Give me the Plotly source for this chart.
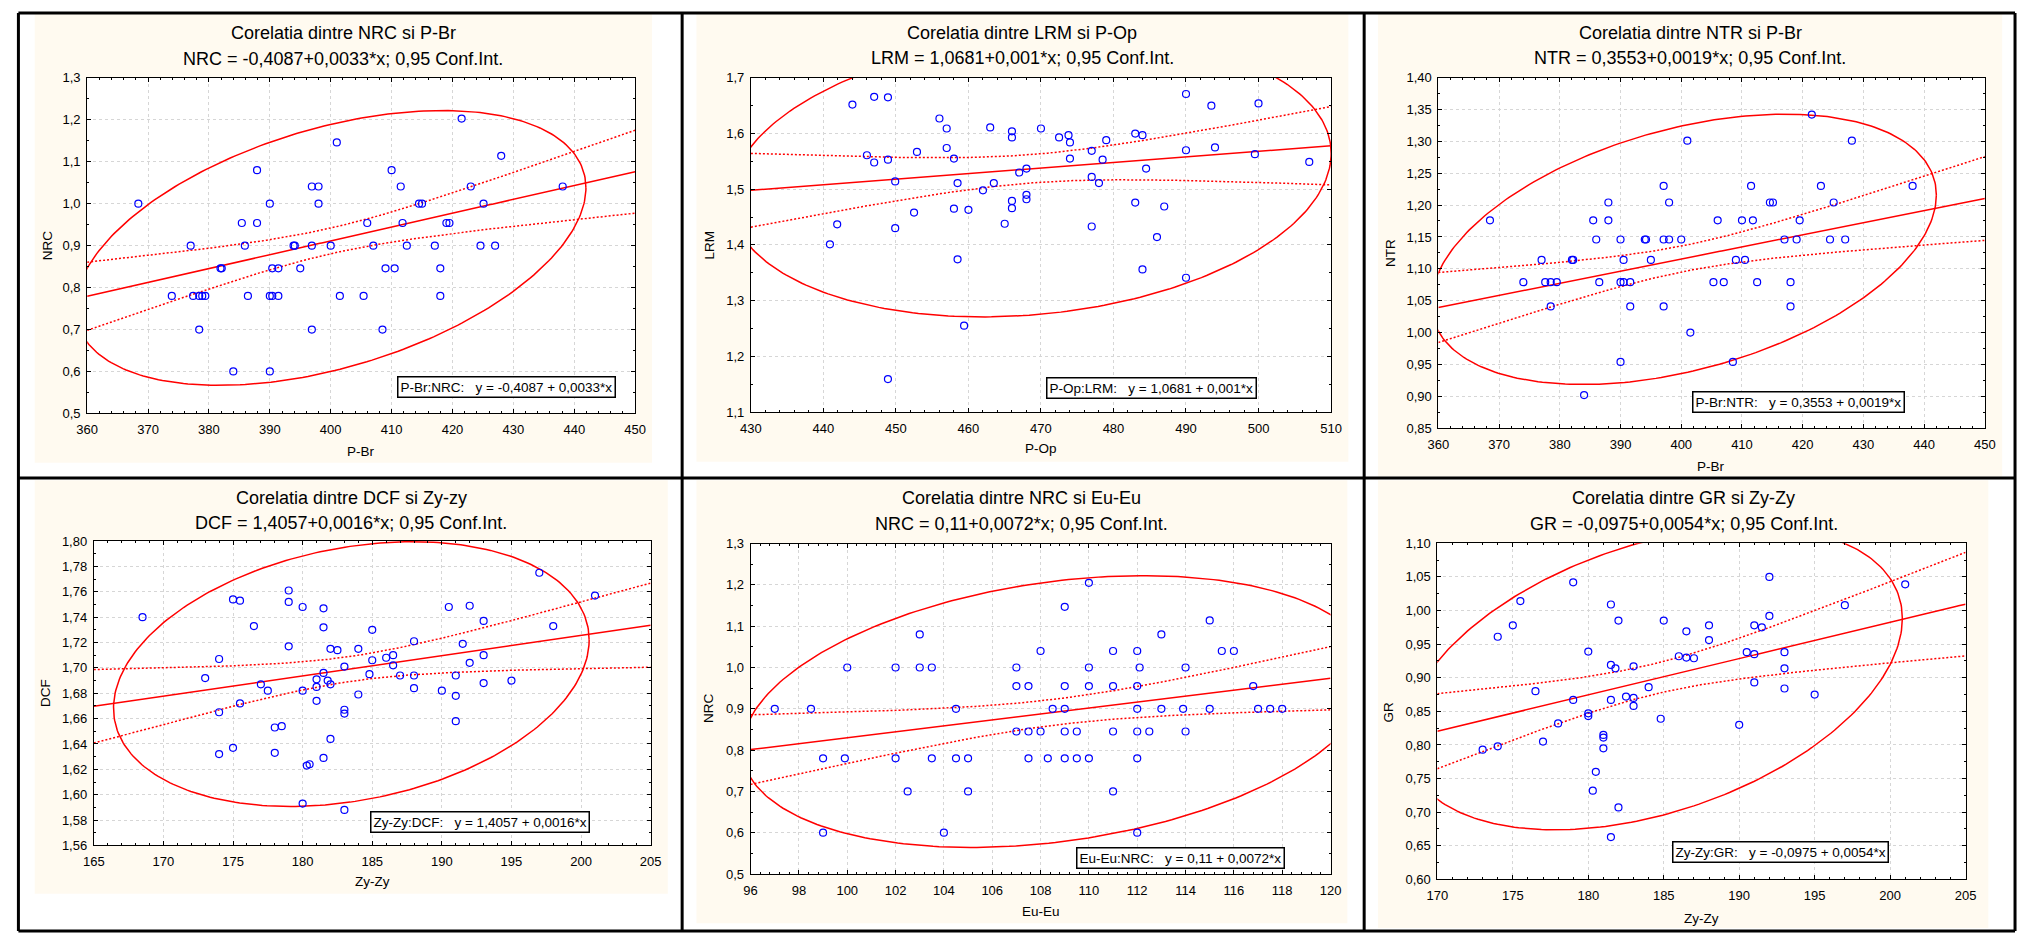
import numpy as np
import plotly.graph_objects as go

W, H = 2029, 942
FONT = "Arial, Liberation Sans, sans-serif"

# ---------------- data ----------------
# NRC vs P-Br
pbr_a = [368.4, 373.9, 377.0, 377.4, 378.4, 378.4, 378.9, 379.4, 381.9, 382.1,
         384.0, 385.4, 385.9, 386.4, 387.9, 387.9, 390.0, 390.0, 390.0, 390.4,
         390.4, 391.4, 391.4, 393.9, 394.1, 395.0, 396.9, 396.9, 396.9, 398.0,
         398.0, 400.0, 401.0, 401.5, 405.4, 406.0, 407.0, 408.5, 409.0, 410.0,
         410.5, 411.5, 411.8, 412.5, 414.5, 415.0, 417.1, 418.0, 418.0, 419.0,
         419.5, 421.5, 423.0, 424.6, 425.1, 427.0, 428.0, 438.1]
nrc_a = [1.0, 0.78, 0.90, 0.78, 0.78, 0.70, 0.78, 0.78, 0.846, 0.846,
         0.60, 0.954, 0.90, 0.78, 1.08, 0.954, 1.0, 0.78, 0.60, 0.846,
         0.78, 0.846, 0.78, 0.90, 0.90, 0.846, 1.041, 0.90, 0.70, 1.041,
         1.0, 0.90, 1.146, 0.78, 0.78, 0.954, 0.90, 0.70, 0.846, 1.08,
         0.846, 1.041, 0.954, 0.90, 1.0, 1.0, 0.90, 0.846, 0.78, 0.954,
         0.954, 1.203, 1.041, 0.90, 1.0, 0.90, 1.114, 1.041]
nrc_pbr_coef = (-0.4087, 0.0033)

# LRM vs P-Op
pop = [440.9, 441.9, 444.0, 446.0, 447.0, 447.0, 448.9, 448.9, 448.9, 449.9,
       449.9, 452.5, 452.9, 456.0, 457.0, 457.0, 458.0, 458.0, 458.5, 458.5,
       459.4, 460.0, 462.0, 463.0, 463.5, 465.0, 466.0, 466.0, 466.0, 466.0,
       467.0, 468.0, 468.0, 468.0, 470.0, 472.5, 473.8, 474.0, 474.0, 477.0,
       477.0, 477.0, 478.0, 478.5, 479.0, 483.0, 483.0, 484.0, 484.0, 484.5,
       486.0, 487.0, 490.0, 490.0, 490.0, 493.5, 494.0, 499.5, 500.0, 507.0]
lrm = [1.401, 1.437, 1.652, 1.561, 1.666, 1.548, 1.665, 1.553, 1.159, 1.514,
       1.430, 1.458, 1.567, 1.627, 1.609, 1.574, 1.555, 1.465, 1.511, 1.374,
       1.255, 1.463, 1.498, 1.611, 1.511, 1.438, 1.604, 1.593, 1.479, 1.466,
       1.530, 1.537, 1.490, 1.482, 1.609, 1.593, 1.597, 1.584, 1.555, 1.569,
       1.522, 1.433, 1.511, 1.553, 1.588, 1.600, 1.476, 1.597, 1.356, 1.537,
       1.414, 1.469, 1.671, 1.570, 1.341, 1.650, 1.575, 1.563, 1.654, 1.549]
lrm_pop_coef = (1.0681, 0.001)

# NTR vs P-Br
pbr_b = [368.5, 374.0, 377.0, 377.6, 378.5, 378.5, 379.5, 382.0, 384.0, 385.5,
         386.0, 386.5, 388.0, 388.0, 390.0, 390.0, 390.0, 390.5, 390.5, 391.6,
         391.6, 394.0, 395.0, 397.1, 397.1, 397.1, 398.0, 398.0, 400.0, 401.0,
         401.5, 405.3, 406.0, 407.0, 408.5, 409.0, 410.0, 410.5, 411.5, 411.8,
         412.5, 414.6, 415.1, 417.0, 418.0, 418.0, 419.0, 419.5, 421.5, 423.0,
         424.5, 425.1, 427.0, 428.1, 438.1, 382.2, 394.2]
ntr = [1.176, 1.079, 1.114, 1.079, 1.079, 1.041, 1.079, 1.114, 0.902, 1.176,
       1.146, 1.079, 1.204, 1.176, 1.146, 1.079, 0.954, 1.114, 1.079, 1.079,
       1.041, 1.146, 1.114, 1.230, 1.146, 1.041, 1.204, 1.146, 1.146, 1.301,
       1.0, 1.079, 1.176, 1.079, 0.954, 1.114, 1.176, 1.114, 1.230, 1.176,
       1.079, 1.204, 1.204, 1.146, 1.079, 1.041, 1.146, 1.176, 1.342, 1.230,
       1.146, 1.204, 1.146, 1.301, 1.230, 1.114, 1.146]
ntr_pbr_coef = (0.3553, 0.0019)

# DCF vs Zy-Zy
zy_a = [168.5, 173.0, 174.0, 174.0, 174.0, 175.0, 175.0, 175.5, 175.5, 176.5,
        177.0, 177.5, 178.0, 178.0, 178.5, 179.0, 179.0, 179.0, 180.0, 180.0,
        180.0, 180.3, 180.5, 181.0, 181.0, 181.0, 181.5, 181.5, 181.5, 181.5,
        181.8, 182.0, 182.0, 182.0, 182.5, 183.0, 183.0, 183.0, 183.0, 184.0,
        184.0, 184.8, 185.0, 185.0, 186.0, 186.5, 186.5, 187.0, 188.0, 188.0,
        188.0, 190.0, 190.5, 191.0, 191.0, 191.0, 191.5, 192.0, 192.0, 193.0,
        193.0, 193.0, 195.0, 197.0, 198.0, 201.0]
dcf = [1.740, 1.692, 1.707, 1.665, 1.632, 1.754, 1.637, 1.753, 1.672, 1.733,
       1.687, 1.682, 1.653, 1.633, 1.654, 1.761, 1.752, 1.717, 1.748, 1.682,
       1.593, 1.623, 1.624, 1.691, 1.685, 1.674, 1.747, 1.732, 1.696, 1.629,
       1.690, 1.715, 1.687, 1.644, 1.714, 1.701, 1.667, 1.664, 1.588, 1.715,
       1.679, 1.695, 1.730, 1.706, 1.708, 1.710, 1.702, 1.694, 1.721, 1.694,
       1.684, 1.682, 1.748, 1.694, 1.678, 1.658, 1.719, 1.749, 1.704, 1.737,
       1.710, 1.688, 1.690, 1.775, 1.733, 1.757]
dcf_zy_coef = (1.4057, 0.0016)

# NRC vs Eu-Eu
eu = [97.0, 98.5, 99.0, 99.0, 99.9, 100.0, 102.0, 102.0, 102.5, 103.0,
      103.0, 103.5, 103.5, 104.0, 104.5, 104.5, 105.0, 105.0, 107.0, 107.0,
      107.0, 107.5, 107.5, 107.5, 108.0, 108.0, 108.3, 108.5, 109.0, 109.0,
      109.0, 109.0, 109.0, 109.5, 109.5, 110.0, 110.0, 110.0, 110.0, 111.0,
      111.0, 111.0, 111.0, 112.0, 112.0, 112.0, 112.0, 112.0, 112.0, 112.1,
      112.5, 113.0, 113.0, 113.9, 114.0, 114.0, 115.0, 115.0, 115.5, 116.0,
      116.8, 117.0, 117.5, 118.0]
nrc_b = [0.90, 0.90, 0.78, 0.60, 0.78, 1.0, 1.0, 0.78, 0.70, 1.08,
         1.0, 1.0, 0.78, 0.60, 0.90, 0.78, 0.78, 0.70, 1.0, 0.955,
         0.845, 0.955, 0.845, 0.78, 1.04, 0.845, 0.78, 0.90, 1.147, 0.955,
         0.90, 0.845, 0.78, 0.845, 0.78, 1.205, 1.0, 0.955, 0.78, 1.04,
         0.955, 0.845, 0.70, 1.04, 0.955, 0.90, 0.845, 0.78, 0.60, 1.0,
         0.845, 1.08, 0.90, 0.90, 1.0, 0.845, 1.114, 0.90, 1.04, 1.04,
         0.955, 0.90, 0.90, 0.90]
nrc_eu_coef = (0.11, 0.0072)

# GR vs Zy-Zy
zy_b = [173.0, 174.0, 174.0, 175.0, 175.5, 176.5, 177.0, 178.0, 179.0, 179.0,
        180.0, 180.0, 180.0, 180.3, 180.5, 181.0, 181.0, 181.0, 181.5, 181.5,
        181.5, 181.5, 181.8, 182.0, 182.0, 182.5, 183.0, 183.0, 183.0, 184.0,
        184.8, 185.0, 186.0, 186.5, 186.5, 187.0, 188.0, 188.0, 190.0, 190.5,
        191.0, 191.0, 191.0, 191.5, 192.0, 192.0, 193.0, 193.0, 193.0, 195.0,
        197.0, 201.0]
gr = [0.793, 0.961, 0.798, 0.978, 1.014, 0.880, 0.805, 0.832, 1.042, 0.867,
      0.939, 0.847, 0.843, 0.732, 0.760, 0.815, 0.811, 0.795, 1.009, 0.919,
      0.867, 0.663, 0.914, 0.985, 0.707, 0.872, 0.917, 0.870, 0.858, 0.886,
      0.839, 0.985, 0.932, 0.969, 0.930, 0.929, 0.978, 0.956, 0.830, 0.938,
      0.978, 0.935, 0.893, 0.975, 1.050, 0.992, 0.938, 0.914, 0.884, 0.875,
      1.008, 1.039]
gr_zy_coef = (-0.0975, 0.0054)

# ---------------- panel settings ----------------
PANELS = [
    dict(x=pbr_a, y=nrc_a, coef=nrc_pbr_coef, xname="P-Br", yname="NRC",
         title="Corelatia dintre NRC si P-Br",
         xr=(360, 450), xd=10, yr=(0.5, 1.3), yd=0.1, yf=".1f",
         box=(77, 72, 631, 413), bg=(24, 7, 648, 463), tx=336, ty=(26, 53),
         xt=(354, 452), yt=(37, 242.5), leg=(501, 386)),
    dict(x=pop, y=lrm, coef=lrm_pop_coef, xname="P-Op", yname="LRM",
         title="Corelatia dintre LRM si P-Op",
         xr=(430, 510), xd=10, yr=(1.1, 1.7), yd=0.1, yf=".1f",
         box=(748, 72, 1334.5, 411.5), bg=(693, 7, 1352, 462), tx=1022.5, ty=(26, 52),
         xt=(1041, 449), yt=(706, 242), leg=(1153, 387.5)),
    dict(x=pbr_b, y=ntr, coef=ntr_pbr_coef, xname="P-Br", yname="NTR",
         title="Corelatia dintre NTR si P-Br",
         xr=(360, 450), xd=10, yr=(0.85, 1.40), yd=0.05, yf=".2f",
         box=(1443, 71.7, 1995.5, 428), bg=(1382, 7, 2013, 477), tx=1697.5, ty=(26, 52),
         xt=(1719, 467), yt=(1394, 250), leg=(1807.5, 401.5)),
    dict(x=zy_a, y=dcf, coef=dcf_zy_coef, xname="Zy-Zy", yname="DCF",
         title="Corelatia dintre DCF si Zy-zy",
         xr=(165, 205), xd=5, yr=(1.56, 1.80), yd=0.02, yf=".2f",
         box=(83.7, 542.7, 646.7, 852), bg=(24, 481, 664, 901), tx=344, ty=(498.7, 524),
         xt=(365, 889), yt=(35.6, 697), leg=(474, 828)),
    dict(x=eu, y=nrc_b, coef=nrc_eu_coef, xname="Eu-Eu", yname="NRC",
         title="Corelatia dintre NRC si Eu-Eu",
         xr=(96, 120), xd=2, yr=(0.5, 1.3), yd=0.1, yf=".1f",
         box=(747.7, 545.3, 1334, 881), bg=(693, 481, 1351, 931), tx=1022, ty=(498.7, 525),
         xt=(1041, 919), yt=(705, 713), leg=(1182, 864.5)),
    dict(x=zy_b, y=gr, coef=gr_zy_coef, xname="Zy-Zy", yname="GR",
         title="Corelatia dintre GR si Zy-Zy",
         xr=(170, 205), xd=5, yr=(0.60, 1.10), yd=0.05, yf=".2f",
         box=(1442, 545, 1976, 886.5), bg=(1382, 481, 1999, 936), tx=1691, ty=(498.7, 525),
         xt=(1709, 926), yt=(1393, 716), leg=(1789, 859)),
]

RED = "#ff0000"
BLUE = "#0000ff"
CREAM = "#fffaf0"


def fmt(v):
    return str(v).replace(".", ",")


def px(xp):
    return xp / W


def py(yp):
    return 1 - yp / H


def t975(df):
    z = 1.959964
    return (z + (z ** 3 + z) / (4 * df)
            + (5 * z ** 5 + 16 * z ** 3 + 3 * z) / (96 * df ** 2)
            + (3 * z ** 7 + 19 * z ** 5 + 17 * z ** 3 - 15 * z) / (384 * df ** 3))


def f95_2(m):
    # upper 5% point of F(2, m)
    return (m / 2.0) * (0.05 ** (-2.0 / m) - 1.0)


def ellipse(x, y, npts=300):
    x = np.asarray(x, float)
    y = np.asarray(y, float)
    n = len(x)
    cov = np.cov(x, y)
    k = np.sqrt(2.0 * (n - 1) * (n + 1) / (n * (n - 2)) * f95_2(n - 2))
    L = np.linalg.cholesky(cov)
    t = np.linspace(0, 2 * np.pi, npts)
    pts = k * (L @ np.vstack([np.cos(t), np.sin(t)]))
    return x.mean() + pts[0], y.mean() + pts[1]


def conf_band(x, y, b0, b1, xg):
    x = np.asarray(x, float)
    y = np.asarray(y, float)
    n = len(x)
    xb = x.mean()
    sxx = np.sum((x - xb) ** 2)
    c1, c0 = np.polyfit(x, y, 1)
    s = np.sqrt(np.sum((y - (c0 + c1 * x)) ** 2) / (n - 2))
    half = t975(n - 2) * s * np.sqrt(1.0 / n + (xg - xb) ** 2 / sxx)
    fit = b0 + b1 * xg
    return fit - half, fit + half


fig = go.Figure()
shapes = []
annotations = []
axes = {}

for i, p in enumerate(PANELS, start=1):
    sfx = "" if i == 1 else str(i)
    xa, ya = "x" + sfx, "y" + sfx
    b0, b1 = p["coef"]
    x0, x1 = p["xr"]
    y0, y1 = p["yr"]
    bl, bt, br, bb = p["box"]

    # panel background and white plotting area
    cl, ct, cr, cb = p["bg"]
    shapes.append(dict(type="rect", xref="paper", yref="paper", layer="below",
                       x0=px(cl), x1=px(cr), y0=py(cb), y1=py(ct),
                       fillcolor=CREAM, line=dict(width=0)))
    shapes.append(dict(type="rect", xref="paper", yref="paper", layer="below",
                       x0=px(bl), x1=px(br), y0=py(bb), y1=py(bt),
                       fillcolor="white", line=dict(width=0)))

    xg = np.linspace(x0, x1, 300)
    ex, ey = ellipse(p["x"], p["y"])
    lo, hi = conf_band(p["x"], p["y"], b0, b1, xg)

    fig.add_trace(go.Scatter(x=ex, y=ey, mode="lines", xaxis=xa, yaxis=ya,
                             line=dict(color=RED, width=1.5), hoverinfo="skip"))
    for band in (lo, hi):
        fig.add_trace(go.Scatter(x=xg, y=band, mode="lines", xaxis=xa, yaxis=ya,
                                 line=dict(color=RED, width=1.5, dash="2px,2px"),
                                 hoverinfo="skip"))
    fig.add_trace(go.Scatter(x=xg, y=b0 + b1 * xg, mode="lines", xaxis=xa, yaxis=ya,
                             line=dict(color=RED, width=1.5), hoverinfo="skip"))
    fig.add_trace(go.Scatter(x=p["x"], y=p["y"], mode="markers", xaxis=xa, yaxis=ya,
                             marker=dict(symbol="circle-open", size=7, color=BLUE,
                                         line=dict(width=1.2, color=BLUE))))

    common = dict(showline=True, linecolor="black", linewidth=1, mirror="allticks",
                  ticks="inside", ticklen=4, tickwidth=1, tickcolor="black",
                  showgrid=True, gridcolor="#d6d6d6", griddash="dot", gridwidth=1,
                  zeroline=False, tickfont=dict(family=FONT, size=13, color="black"),
                  fixedrange=True)
    ex_ = (x1 - x0) * 1e-6
    ey_ = (y1 - y0) * 1e-6
    axes["xaxis" + sfx] = dict(domain=[px(bl), px(br)], range=[x0 - ex_, x1 + ex_],
                               tick0=x0, dtick=p["xd"], anchor=ya, ticklabelstandoff=4,
                               minor=dict(ticks="inside", ticklen=2, tickcolor="black",
                                          dtick=p["xd"] / 5, showgrid=False),
                               **common)
    axes["yaxis" + sfx] = dict(domain=[py(bb), py(bt)], range=[y0 - ey_, y1 + ey_],
                               tick0=y0, dtick=p["yd"], anchor=xa, tickformat=p["yf"],
                               ticklabelstandoff=3,
                               minor=dict(ticks="inside", ticklen=2, tickcolor="black",
                                          dtick=p["yd"] / 2, showgrid=False),
                               **common)

    # titles
    annotations.append(dict(text=p["title"], x=px(p["tx"]), y=py(p["ty"][0]),
                            xref="paper", yref="paper", showarrow=False,
                            xanchor="center", yanchor="middle",
                            font=dict(family=FONT, size=18, color="black")))
    sub = f"{p['yname']} = {fmt(b0)}+{fmt(b1)}*x; 0,95 Conf.Int."
    annotations.append(dict(text=sub, x=px(p["tx"]), y=py(p["ty"][1]),
                            xref="paper", yref="paper", showarrow=False,
                            xanchor="center", yanchor="middle",
                            font=dict(family=FONT, size=18, color="black")))
    # axis titles
    annotations.append(dict(text=p["xname"], x=px(p["xt"][0]), y=py(p["xt"][1]),
                            xref="paper", yref="paper", showarrow=False,
                            xanchor="center", yanchor="middle",
                            font=dict(family=FONT, size=13.5, color="black")))
    annotations.append(dict(text=p["yname"], x=px(p["yt"][0]), y=py(p["yt"][1]),
                            xref="paper", yref="paper", showarrow=False, textangle=-90,
                            xanchor="center", yanchor="middle",
                            font=dict(family=FONT, size=13.5, color="black")))
    # regression legend box
    sep = "\u00a0\u00a0\u00a0"
    leg = f"{p['xname']}:{p['yname']}:{sep}y = {fmt(b0)} + {fmt(b1)}*x"
    annotations.append(dict(text=leg, x=px(p["leg"][0]), y=py(p["leg"][1]),
                            xref="paper", yref="paper", showarrow=False,
                            xanchor="center", yanchor="middle",
                            bgcolor="white", bordercolor="black", borderwidth=1.5,
                            borderpad=2,
                            font=dict(family=FONT, size=13.5, color="black")))

# table frame
LW = 3
frame = [
    (7.5, 6, 2026, 6), (7.5, 939, 2026, 939),
    (7.5, 6, 7.5, 939), (2026, 6, 2026, 939),
    (678.5, 6, 678.5, 939), (1368, 6, 1368, 939),
    (7.5, 478.7, 2026, 478.7),
]
for (ax0, ay0, ax1, ay1) in frame:
    shapes.append(dict(type="line", xref="paper", yref="paper", layer="above",
                       x0=px(ax0), y0=py(ay0), x1=px(ax1), y1=py(ay1),
                       line=dict(color="black", width=LW)))

fig.update_layout(
    width=W, height=H, autosize=False,
    margin=dict(l=0, r=0, t=0, b=0, pad=0),
    paper_bgcolor="white", plot_bgcolor="white",
    showlegend=False, separators=", ",
    font=dict(family=FONT, color="black"),
    shapes=shapes, annotations=annotations,
    **axes,
)

fig.write_html("out.html", config={"displayModeBar": False})
